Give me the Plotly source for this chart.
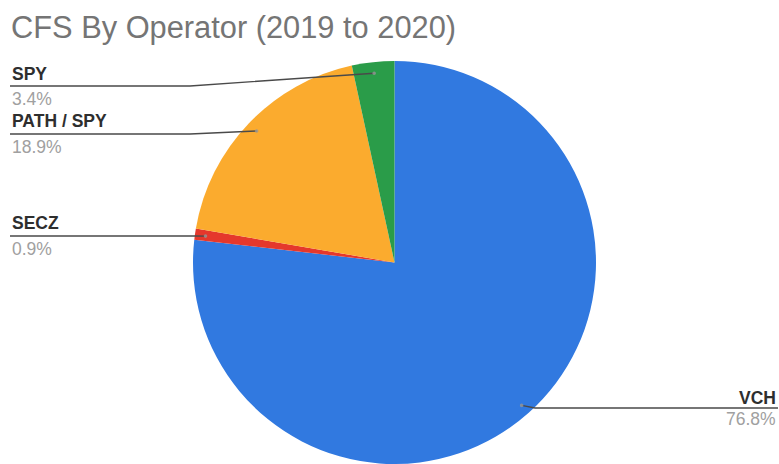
import math
import plotly.graph_objects as go

# Calls for service share by operator, 2019-2020 (percent)
operators = ["VCH", "SECZ", "PATH / SPY", "SPY"]
shares = [76.8, 0.9, 18.9, 3.4]
colors = ["#3179e0", "#e5382c", "#fbab2e", "#2a9c49"]

W, H = 779, 464
# Pie geometry in pixels
CX, CY, R = 394.5, 263, 202

# Label layout: side, text y, leader-line y, bend x
label_side = ["right", "left", "left", "left"]
name_y = [398, 223, 121, 74]
line_y = [408, 236, 134, 86]
pct_y = [419, 249, 147, 99]
bend_x = [535, 195, 190, 190]


def px(x):
    return x / W


def py(y):
    return 1 - y / H


fig = go.Figure(
    go.Pie(
        labels=operators,
        values=shares,
        sort=False,
        direction="clockwise",
        rotation=0,
        marker=dict(colors=colors, line=dict(width=0)),
        textinfo="none",
        hoverinfo="label+percent",
        domain=dict(x=[px(CX - R), px(CX + R)], y=[0, py(CY - R)]),
        showlegend=False,
    )
)

shapes = []
annotations = []
total = sum(shares)
cum = 0.0
for name, val, side, ny, ly, pyy, bx in zip(
    operators, shares, label_side, name_y, line_y, pct_y, bend_x
):
    mid = (cum + val / 2) / total * 2 * math.pi
    cum += val
    # anchor point inside the slice along its mid angle
    ax = CX + 0.945 * R * math.sin(mid)
    ay = CY - 0.945 * R * math.cos(mid)
    x_end = 10 if side == "left" else 778
    path = f"M {px(x_end)} {py(ly)} L {px(bx)} {py(ly)} L {px(ax)} {py(ay)}"
    shapes.append(dict(type="path", xref="paper", yref="paper", path=path,
                       line=dict(color="#4a4a4a", width=1.4)))
    shapes.append(dict(type="circle", xref="paper", yref="paper",
                       x0=px(ax - 1.8), x1=px(ax + 1.8),
                       y0=py(ay + 1.8), y1=py(ay - 1.8),
                       fillcolor="rgba(150,150,150,0.8)", line=dict(width=0)))
    xa = px(x_end)
    anchor = "left" if side == "left" else "right"
    annotations.append(dict(x=xa, y=py(ny), xref="paper", yref="paper",
                            text=f"<b>{name}</b>", showarrow=False,
                            xanchor=anchor, yanchor="middle",
                            font=dict(family="Liberation Sans, Arial", size=17.5,
                                      color="#2e2e2e")))
    annotations.append(dict(x=xa, y=py(pyy), xref="paper", yref="paper",
                            text=f"{val / total * 100:.1f}%", showarrow=False,
                            xanchor=anchor, yanchor="middle",
                            font=dict(family="Liberation Sans, Arial", size=17.5,
                                      color="#a0a0a0")))

annotations.append(dict(x=px(9), y=py(27), xref="paper", yref="paper",
                        text="CFS By Operator (2019 to 2020)", showarrow=False,
                        xanchor="left", yanchor="middle",
                        font=dict(family="Liberation Sans, Arial", size=30.8,
                                  color="#757575")))

fig.update_layout(
    width=W, height=H,
    margin=dict(l=0, r=0, t=0, b=0),
    paper_bgcolor="white",
    plot_bgcolor="white",
    shapes=shapes,
    annotations=annotations,
)

fig.write_html("out.html")
